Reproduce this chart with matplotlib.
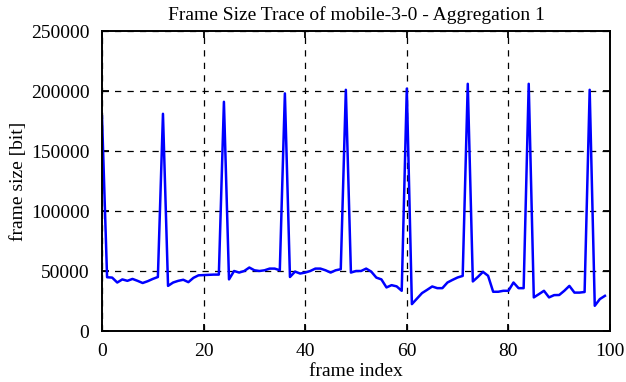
import matplotlib
matplotlib.use("Agg")
import matplotlib.pyplot as plt

# frame sizes in bits, frames 0..99
frame_size = [
    179000, 44800, 44500, 40400, 43000, 41800, 43400, 41800, 40000, 41500,
    43400, 45000, 181000, 37600, 40400, 41800, 42700, 40700, 44300, 46400,
    46600, 46800, 47000, 47000, 191000, 43000, 50000, 48700, 50000, 52900,
    50600, 50000, 50600, 52000, 52000, 50600, 198000, 45000, 49500, 47900,
    48700, 50000, 52000, 52000, 50600, 48700, 50600, 51500, 201000, 48700,
    50000, 50000, 52000, 49500, 44500, 43000, 36300, 38200, 37200, 33500,
    202000, 22400, 27000, 31600, 34300, 37100, 35700, 35700, 40400, 42600,
    44600, 45900, 206000, 41300, 45100, 49300, 46000, 32700, 32700, 33500,
    33500, 40400, 35700, 35700, 206000, 28000, 30700, 33500, 28000, 29900,
    30000, 33500, 37600, 32000, 32000, 32500, 201000, 21000, 26600, 29300,
]
frames = list(range(len(frame_size)))

plt.rcParams['font.family'] = ['Liberation Serif', 'DejaVu Serif']
plt.rcParams['font.size'] = 14

fig = plt.figure(figsize=(6.26, 3.82), dpi=100)
ax = fig.add_axes([102/626, 1 - 331/382, 508/626, 300/382])

ax.plot(frames, frame_size, color='#0000ff', lw=1.8)

ax.set_xlim(0, 100)
ax.set_ylim(0, 250000)
ax.set_xticks(range(0, 101, 20))
ax.set_yticks(range(0, 250001, 50000))
ax.grid(True, color='black', ls=(0, (5, 5)), lw=0.9)
ax.tick_params(direction='in', length=5, width=1.3, top=True, right=True)
ax.tick_params(axis='x', pad=9)
ax.tick_params(axis='y', pad=9)
for s in ax.spines.values():
    s.set_linewidth(1.4)

ax.set_title('Frame Size Trace of mobile-3-0 - Aggregation 1', fontsize=14, pad=8)
ax.set_xlabel('frame index', labelpad=2)
ax.set_ylabel('frame size [bit]', labelpad=3)

fig.savefig('out.png', dpi=100)
